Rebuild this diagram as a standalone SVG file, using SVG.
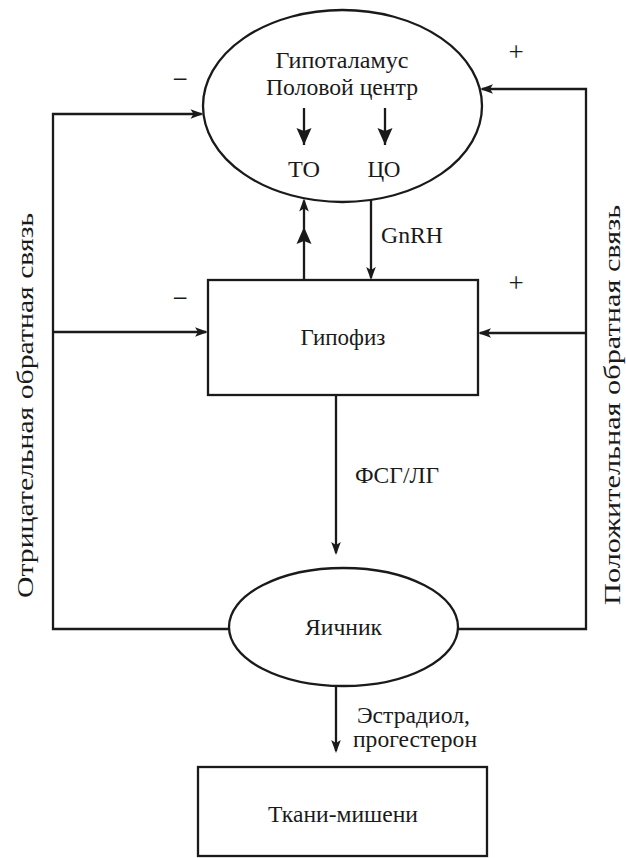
<svg xmlns="http://www.w3.org/2000/svg" width="626" height="858" viewBox="0 0 626 858">
<style>
  .shape { fill: #ffffff; stroke: #1a1a1a; stroke-width: 2.3; }
  .line { fill: none; stroke: #1a1a1a; stroke-width: 2.3; }
  .t { font-family: 'Liberation Serif', 'DejaVu Serif', 'Times New Roman', serif; font-size: 23px; fill: #1a1a1a; }
  .s { font-size: 27px; }
  .c { text-anchor: middle; }
</style>
<defs>
  <marker id="arr" viewBox="-14 -6 15 12" refX="-2" refY="0" markerWidth="15" markerHeight="12" orient="auto" markerUnits="userSpaceOnUse">
    <path d="M0,0 L-13,-4.8 L-10,0 L-13,4.8 Z" fill="#1a1a1a"/>
  </marker>
  <marker id="arrL" viewBox="-18 -8 19 16" refX="0" refY="0" markerWidth="19" markerHeight="16" orient="auto" markerUnits="userSpaceOnUse">
    <path d="M0,0 L-17,-7.5 L-14,0 L-17,7.5 Z" fill="#1a1a1a"/>
  </marker>
</defs>

<rect width="626" height="858" fill="#ffffff"/>

<g id="connectors">
  <path class="line" d="M229 629 H53 V114 H201.5" marker-end="url(#arr)"/>
  <path class="line" d="M53 332 H206" marker-end="url(#arr)"/>
  <path class="line" d="M458 629 H586 V89 H482" marker-end="url(#arr)"/>
  <path class="line" d="M586 333 H480" marker-end="url(#arr)"/>
  <path class="line" d="M371 200 V278" marker-end="url(#arr)"/>
  <path class="line" d="M304 280 V227 V200.5" marker-mid="url(#arrL)" marker-end="url(#arr)"/>
  <path class="line" d="M336 395 V553" marker-end="url(#arr)"/>
  <path class="line" d="M336 686 V751" marker-end="url(#arr)"/>
</g>

<g id="hypothalamus">
  <ellipse class="shape" cx="342.5" cy="106" rx="139.5" ry="96"/>
  <text class="t c" x="342" y="68" textLength="133" lengthAdjust="spacingAndGlyphs">Гипоталамус</text>
  <text class="t c" x="342" y="95" textLength="152" lengthAdjust="spacingAndGlyphs">Половой центр</text>
  <path class="line" d="M304 108 V145" marker-end="url(#arrL)"/>
  <path class="line" d="M385 108 V145" marker-end="url(#arrL)"/>
  <text class="t c" x="304" y="177" textLength="32" lengthAdjust="spacingAndGlyphs">ТО</text>
  <text class="t c" x="384" y="177" textLength="33" lengthAdjust="spacingAndGlyphs">ЦО</text>
</g>

<g id="pituitary">
  <rect class="shape" x="208" y="280" width="270" height="115"/>
  <text class="t c" x="343" y="345">Гипофиз</text>
</g>

<g id="ovary">
  <ellipse class="shape" cx="343.5" cy="627" rx="114.5" ry="59"/>
  <text class="t c" x="343.5" y="635" textLength="77" lengthAdjust="spacingAndGlyphs">Яичник</text>
</g>

<g id="target-tissues">
  <rect class="shape" x="198" y="767" width="289" height="89"/>
  <text class="t c" x="343" y="822" textLength="150" lengthAdjust="spacingAndGlyphs">Ткани-мишени</text>
</g>

<g id="labels">
  <text class="t" x="381" y="243" textLength="62" lengthAdjust="spacingAndGlyphs">GnRH</text>
  <text class="t" x="355" y="483" textLength="84" lengthAdjust="spacingAndGlyphs">ФСГ/ЛГ</text>
  <text class="t c" x="413.5" y="723" textLength="113" lengthAdjust="spacingAndGlyphs">Эстрадиол,</text>
  <text class="t c" x="415" y="747" textLength="124" lengthAdjust="spacingAndGlyphs">прогестерон</text>
  <text class="t s c" x="180" y="88">−</text>
  <text class="t s c" x="180" y="307">−</text>
  <text class="t s c" x="516" y="61">+</text>
  <text class="t s c" x="516" y="292">+</text>
  <text class="t" transform="translate(33 598) rotate(-90)" textLength="385" lengthAdjust="spacingAndGlyphs">Отрицательная обратная связь</text>
  <text class="t" transform="translate(620 605) rotate(-90)" textLength="400" lengthAdjust="spacingAndGlyphs">Положительная обратная связь</text>
</g>
</svg>
